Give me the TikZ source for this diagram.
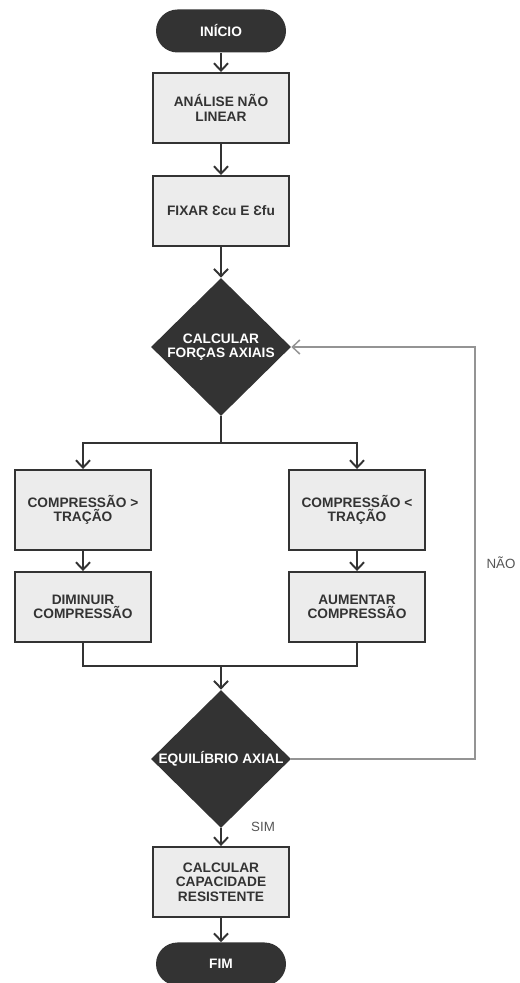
\documentclass[tikz,border=0pt]{standalone}
\usepackage{fontspec}
\setmainfont{Liberation Sans}
\usetikzlibrary{arrows.meta,positioning}
\usetikzlibrary{shapes.geometric}

\definecolor{darkfill}{HTML}{333333}
\definecolor{boxfill}{HTML}{ECECEC}
\definecolor{loopgray}{HTML}{949494}
\definecolor{labelgray}{HTML}{555555}

\begin{document}
\begin{tikzpicture}[
    >={Straight Barb[length=4.2pt,width=8pt]},
    % estilos dos blocos
    term/.style={rectangle, rounded corners=0.43cm, fill=darkfill, text=white,
        font=\bfseries\fontsize{7.8}{8.2}\selectfont, minimum width=2.6cm, minimum height=0.86cm},
    proc/.style={rectangle, draw=darkfill, line width=1.1pt, fill=boxfill, text=darkfill,
        font=\bfseries\fontsize{7.8}{8.2}\selectfont, align=center, minimum width=2.72cm, minimum height=1.4cm},
    dec/.style={diamond, fill=darkfill, inner sep=0pt, minimum width=2.8cm, minimum height=2.76cm},
    dectext/.style={text=white, font=\bfseries\fontsize{7.8}{8.2}\selectfont, align=center, inner sep=0pt},
    line/.style={->, draw=darkfill, line width=1.1pt},
    loopline/.style={->, draw=loopgray, line width=0.85pt},
    answer/.style={text=labelgray, font=\fontsize{7.6}{8.4}\selectfont}
]
\useasboundingbox (0,0) rectangle (10.4,19.66);

% --- 1. Coluna principal ---
\node[term] (start) at (4.42, 19.04) {INÍCIO};
\node[proc] (b1) at (4.42, 17.5) {ANÁLISE NÃO\\LINEAR};
\node[proc] (b2) at (4.42, 15.44) {FIXAR Ɛcu E Ɛfu};

\node[dec] (d1) at (4.42, 12.72) {};
\node[dectext] (d1t) at (d1) {CALCULAR\\FORÇAS AXIAIS};

% --- 2. Ramos laterais ---
\node[proc, minimum height=1.6cm] (l1) at (1.66, 9.46) {COMPRESSÃO >\\TRAÇÃO};
\node[proc] (l2) at (1.66, 7.52) {DIMINUIR\\COMPRESSÃO};
\node[proc, minimum height=1.6cm] (r1) at (7.14, 9.46) {COMPRESSÃO <\\TRAÇÃO};
\node[proc] (r2) at (7.14, 7.52) {AUMENTAR\\COMPRESSÃO};

\coordinate (split) at (4.42, 10.80); % divisao
\coordinate (merge) at (4.42, 6.34);  % juncao

% --- 3. Equilibrio e fim ---
\node[dec] (d2) at (4.42, 4.48) {};
\node[dectext] (d2t) at (d2) {EQUILÍBRIO AXIAL};

\node[proc, align=center] (b3) at (4.42, 2.02) {CALCULAR\\CAPACIDADE\\RESISTENTE};
\node[term] (stop) at (4.42, 0.38) {FIM};

% --- 4. Ligacoes ---
\draw[line] (start) -- (b1);
\draw[line] (b1) -- (b2);
\draw[line] (b2) -- (d1);

\draw[line, -] (d1.south) -- (split);
\draw[line] (split) -| (l1.north);
\draw[line] (split) -| (r1.north);
\draw[line] (l1) -- (l2);
\draw[line] (r1) -- (r2);

\draw[line, -] (l2.south) |- (merge) -| (r2.south);
\draw[line] (merge) -- (d2);

\draw[line] (d2) -- (b3);
\draw[line] (b3) -- (stop);

% laco de volta (NAO)
\coordinate (loopx) at (9.5, 4.48);
\draw[loopline] (d2.east) -- (loopx) |- (d1.east);

% --- 5. Rotulos ---
\node[answer] (no) at (10.02, 8.4) {NÃO};
\node[answer] (yes) at (5.26, 3.12) {SIM};

\end{tikzpicture}
\end{document}
